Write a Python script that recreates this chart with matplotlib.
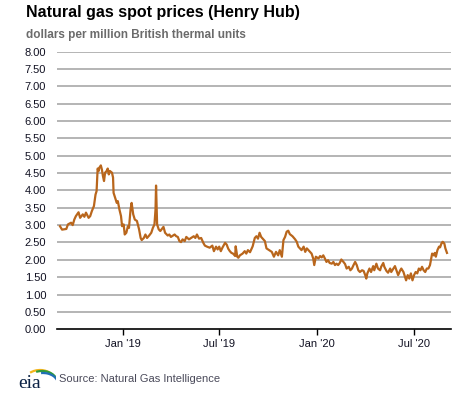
import matplotlib.pyplot as plt
import matplotlib.dates as mdates
import numpy as np
import pandas as pd
from matplotlib.patches import Arc

plt.rcParams["font.family"] = ["Liberation Sans", "DejaVu Sans"]

# Henry Hub spot price (dollars per MMBtu)
dates = [
    "2018-09-04", "2018-09-08", "2018-09-16", "2018-09-19", "2018-09-25", "2018-09-28",
    "2018-10-01", "2018-10-04", "2018-10-09", "2018-10-12", "2018-10-17", "2018-10-20",
    "2018-10-23", "2018-10-28", "2018-10-31", "2018-11-03", "2018-11-07", "2018-11-10",
    "2018-11-12", "2018-11-14", "2018-11-16", "2018-11-17", "2018-11-20", "2018-11-22",
    "2018-11-24", "2018-11-26", "2018-11-28", "2018-12-01", "2018-12-03", "2018-12-05",
    "2018-12-07", "2018-12-11", "2018-12-13", "2018-12-14", "2018-12-18", "2018-12-20",
    "2018-12-22", "2018-12-25", "2018-12-28", "2018-12-30", "2019-01-02", "2019-01-04",
    "2019-01-07", "2019-01-10", "2019-01-12", "2019-01-15", "2019-01-17", "2019-01-20",
    "2019-01-23", "2019-01-27", "2019-01-31", "2019-02-03", "2019-02-05", "2019-02-09",
    "2019-02-12", "2019-02-15", "2019-02-19", "2019-02-23", "2019-02-26", "2019-03-01",
    "2019-03-03", "2019-03-04", "2019-03-06", "2019-03-09", "2019-03-12", "2019-03-15",
    "2019-03-18", "2019-03-21", "2019-03-26", "2019-03-29", "2019-04-01", "2019-04-05",
    "2019-04-08", "2019-04-11", "2019-04-14", "2019-04-17", "2019-04-20", "2019-04-23",
    "2019-04-27", "2019-04-30", "2019-05-05", "2019-05-09", "2019-05-14", "2019-05-17",
    "2019-05-20", "2019-05-24", "2019-05-28", "2019-06-01", "2019-06-04", "2019-06-08",
    "2019-06-13", "2019-06-18", "2019-06-21", "2019-06-25", "2019-06-28", "2019-07-01",
    "2019-07-04", "2019-07-07", "2019-07-12", "2019-07-15", "2019-07-18", "2019-07-21",
    "2019-07-24", "2019-07-27", "2019-07-31", "2019-08-01", "2019-08-04", "2019-08-06",
    "2019-08-09", "2019-08-14", "2019-08-18", "2019-08-21", "2019-08-24", "2019-08-28",
    "2019-09-02", "2019-09-06", "2019-09-09", "2019-09-12", "2019-09-15", "2019-09-18",
    "2019-09-22", "2019-09-25", "2019-09-28", "2019-10-03", "2019-10-08", "2019-10-12",
    "2019-10-16", "2019-10-20", "2019-10-23", "2019-10-27", "2019-10-30", "2019-11-02",
    "2019-11-05", "2019-11-08", "2019-11-11", "2019-11-16", "2019-11-21", "2019-11-24",
    "2019-11-27", "2019-11-30", "2019-12-03", "2019-12-07", "2019-12-10", "2019-12-13",
    "2019-12-16", "2019-12-19", "2019-12-22", "2019-12-25", "2019-12-27", "2019-12-30",
    "2020-01-04", "2020-01-07", "2020-01-10", "2020-01-13", "2020-01-16", "2020-01-19",
    "2020-01-22", "2020-01-25", "2020-01-29", "2020-02-01", "2020-02-04", "2020-02-07",
    "2020-02-10", "2020-02-13", "2020-02-16", "2020-02-20", "2020-02-23", "2020-02-26",
    "2020-03-01", "2020-03-04", "2020-03-07", "2020-03-10", "2020-03-13", "2020-03-16",
    "2020-03-19", "2020-03-22", "2020-03-26", "2020-03-29", "2020-04-01", "2020-04-03",
    "2020-04-05", "2020-04-09", "2020-04-12", "2020-04-16", "2020-04-18", "2020-04-22",
    "2020-04-25", "2020-04-29", "2020-05-01", "2020-05-05", "2020-05-07", "2020-05-11",
    "2020-05-14", "2020-05-18", "2020-05-20", "2020-05-24", "2020-05-27", "2020-05-31",
    "2020-06-02", "2020-06-06", "2020-06-08", "2020-06-12", "2020-06-15", "2020-06-17",
    "2020-06-20", "2020-06-23", "2020-06-26", "2020-06-29", "2020-07-02", "2020-07-05",
    "2020-07-08", "2020-07-11", "2020-07-14", "2020-07-17", "2020-07-20", "2020-07-23",
    "2020-07-26", "2020-07-29", "2020-08-01", "2020-08-05", "2020-08-08", "2020-08-10",
    "2020-08-12", "2020-08-15", "2020-08-18", "2020-08-20", "2020-08-23", "2020-08-25",
    "2020-08-28", "2020-08-30", "2020-09-02",
]
prices = [
    2.97, 2.87, 2.89, 3.02, 3.07, 3.00,
    3.16, 3.26, 3.37, 3.21, 3.31, 3.24,
    3.36, 3.21, 3.26, 3.40, 3.55, 3.88,
    3.98, 4.63, 4.56, 4.65, 4.72, 4.60,
    4.41, 4.27, 4.51, 4.56, 4.63, 4.46,
    4.56, 4.51, 4.37, 3.93, 3.74, 3.64,
    3.69, 3.45, 3.26, 2.97, 3.02, 2.73,
    2.78, 2.97, 2.92, 3.45, 3.64, 3.31,
    3.16, 3.12, 2.88, 2.63, 2.57, 2.63,
    2.73, 2.63, 2.70, 2.78, 2.92, 3.02,
    3.45, 4.14, 3.02, 2.88, 2.83, 2.89,
    2.95, 2.78, 2.70, 2.73, 2.66, 2.70,
    2.73, 2.68, 2.66, 2.54, 2.51, 2.59,
    2.54, 2.66, 2.59, 2.63, 2.68, 2.63,
    2.73, 2.61, 2.63, 2.49, 2.41, 2.38,
    2.35, 2.41, 2.25, 2.38, 2.30, 2.38,
    2.25, 2.35, 2.49, 2.44, 2.32, 2.25,
    2.20, 2.18, 2.11, 2.39, 2.09, 2.06,
    2.13, 2.18, 2.25, 2.18, 2.28, 2.22,
    2.39, 2.63, 2.68, 2.61, 2.78, 2.66,
    2.59, 2.54, 2.33, 2.28, 2.23, 2.09,
    2.23, 2.13, 2.28, 2.09, 2.57, 2.66,
    2.81, 2.84, 2.74, 2.68, 2.59, 2.52,
    2.38, 2.33, 2.28, 2.38, 2.23, 2.33,
    2.28, 2.23, 2.18, 2.04, 1.85, 2.09,
    2.04, 2.11, 2.07, 2.13, 2.04, 1.94,
    1.99, 1.91, 1.89, 1.94, 1.85, 1.89,
    1.85, 1.91, 2.01, 1.94, 1.88, 1.75,
    1.80, 1.70, 1.75, 1.85, 1.94, 1.85,
    1.70, 1.65, 1.70, 1.68, 1.56, 1.46,
    1.61, 1.75, 1.65, 1.82, 1.70, 1.89,
    1.75, 1.70, 1.80, 1.91, 1.80, 1.68,
    1.63, 1.75, 1.65, 1.75, 1.82, 1.65,
    1.56, 1.70, 1.75, 1.65, 1.51, 1.41,
    1.56, 1.46, 1.61, 1.41, 1.56, 1.65,
    1.61, 1.75, 1.70, 1.80, 1.70, 1.65,
    1.75, 1.75, 1.85, 2.18, 2.13, 2.20,
    2.09, 2.28, 2.38, 2.36, 2.49, 2.52,
    2.47, 2.33, 2.20,
]

y_ticks = np.arange(0, 8.01, 0.5)
x_tick_dates = ["2019-01-01", "2019-07-01", "2020-01-01", "2020-07-01"]
x_tick_labels = ["Jan '19", "Jul '19", "Jan '20", "Jul '20"]

W, H = 477, 393
fig = plt.figure(figsize=(W / 100, H / 100), dpi=100)
ax = fig.add_axes([57.3 / W, 1 - 329.3 / H, (450.7 - 57.3) / W, (329.3 - 51.5) / H])

x = pd.to_datetime(dates)
ax.plot(x, prices, color="#b9661c", lw=1.6, solid_joinstyle="round")

ax.set_ylim(0, 8)
ax.set_xlim(pd.Timestamp("2018-08-30"), pd.Timestamp("2020-09-09"))
ax.set_yticks(y_ticks)
ax.set_yticklabels(["%.2f" % v for v in y_ticks])
ax.set_xticks(pd.to_datetime(x_tick_dates))
ax.set_xticklabels(x_tick_labels)

for v in y_ticks[1:]:
    ax.axhline(v, color="#a0a0a0", lw=1.1, zorder=0)

for s in ["top", "right", "left"]:
    ax.spines[s].set_visible(False)
ax.spines["bottom"].set_color("black")
ax.spines["bottom"].set_linewidth(1.2)
ax.tick_params(axis="y", length=0, pad=8, labelsize=8, labelcolor="#111122")
ax.tick_params(axis="x", length=4, width=1, direction="out", pad=3,
               labelsize=8, labelcolor="#111122")

fig.text(26 / W, 1 - 13 / H, "Natural gas spot prices (Henry Hub)", fontsize=11.5,
         fontweight="bold", color="black", va="center", ha="left")
fig.text(26 / W, 1 - 35 / H, "dollars per million British thermal units", fontsize=8.5,
         fontweight="bold", color="#6b6b6b", va="center", ha="left")
fig.text(59 / W, 1 - 379 / H, "Source: Natural Gas Intelligence", fontsize=8,
         color="#4a4a5a", va="center", ha="left")

# eia logo
lax = fig.add_axes([16 / W, 1 - 393 / H, 40 / W, 33 / H])
lax.set_xlim(0, 40)
lax.set_ylim(0, 33)
lax.axis("off")
lax.text(2, 5, "eia", family=["Liberation Serif", "DejaVu Serif"], fontsize=14,
         color="#0b2245", va="baseline", ha="left")
lax.add_patch(Arc((24, 12), 30, 22, theta1=35, theta2=140, color="#f2b51c", lw=1.6))
lax.add_patch(Arc((26, 11), 30, 22, theta1=20, theta2=120, color="#2f9a3b", lw=1.6))
lax.add_patch(Arc((27, 9), 30, 22, theta1=-5, theta2=100, color="#1f6fb5", lw=1.6))

fig.savefig("out.png", dpi=100)
